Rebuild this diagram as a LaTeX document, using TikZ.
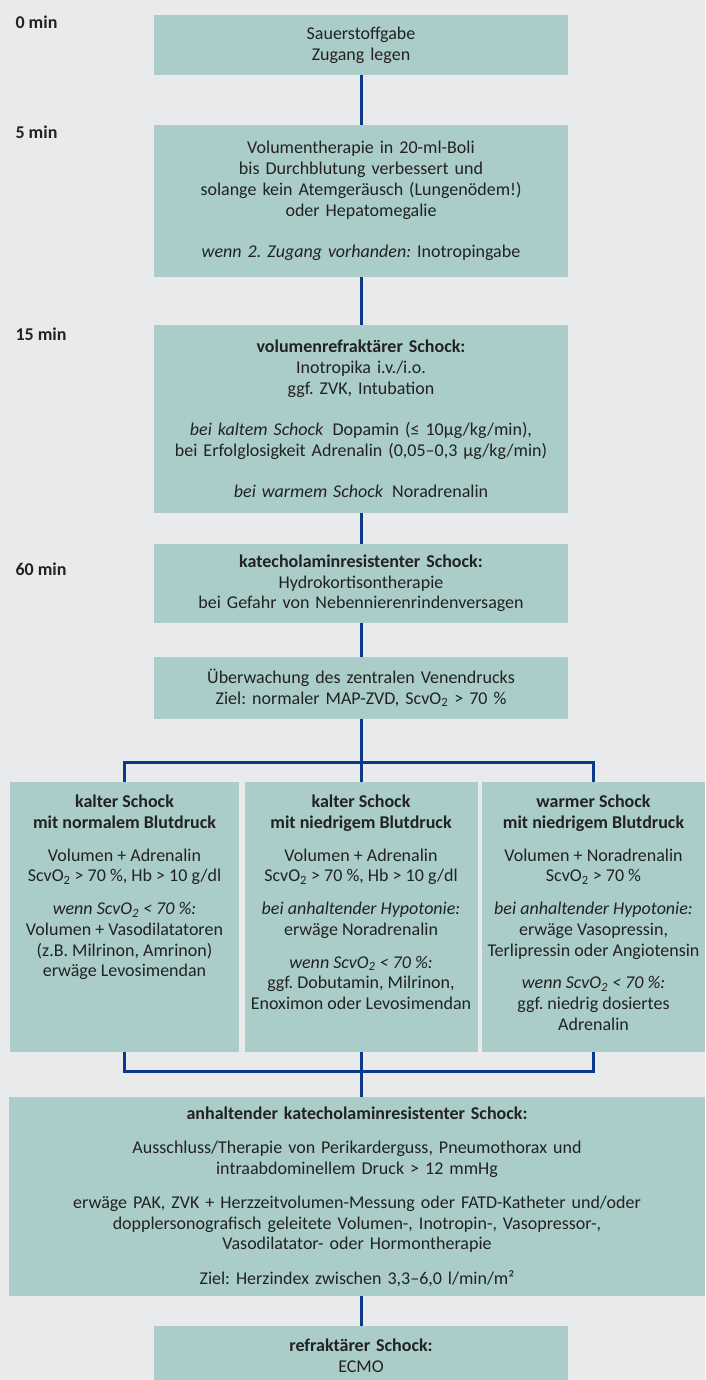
\documentclass[tikz,border=0pt]{standalone}
\usepackage{fontspec}
\setmainfont{Carlito}
\usepackage{tikz}
\usetikzlibrary{positioning}
\definecolor{pagegray}{HTML}{E8EAEB}
\definecolor{boxteal}{HTML}{AACDC9}
\definecolor{flowblue}{HTML}{0B3A8A}
\definecolor{inkgray}{HTML}{222222}
\newcommand{\svo}{ScvO\textsubscript{2}}
\newcommand{\colbox}[2]{\begin{minipage}[t][270pt][t]{#1}\centering\vspace*{13pt}#2\end{minipage}}
\frenchspacing

\begin{document}
\begin{tikzpicture}[x=1pt,y=-1pt,
    every node/.style={text=inkgray, font=\fontsize{18}{20.7}\selectfont},
    mainbox/.style={fill=boxteal, minimum width=414pt, text width=410pt, align=center, inner sep=2pt},
    colnode/.style={fill=boxteal, inner xsep=1pt, inner ysep=0pt, anchor=north},
    timelabel/.style={anchor=base west, font=\fontsize{18}{20.7}\selectfont\bfseries},
    flow/.style={draw=flowblue, line width=3pt}]
  % page
  \fill[pagegray] (0,0) rectangle (705,1380);
  \useasboundingbox (0,0) rectangle (705,1380);
  % time axis
  \node[timelabel] (t0) at (12,29) {0 min};
  \node[timelabel] (t5) at (12,139) {5 min};
  \node[timelabel] (t15) at (12,340) {15 min};
  \node[timelabel] (t60) at (12,575) {60 min};
  % main column
  \node[mainbox, minimum height=60pt] (sauer) at (361,45) {Sauerstoffgabe\\Zugang legen};
  \node[mainbox, minimum height=152pt] (volumen) at (361,201)
      {Volumentherapie in 20-ml-Boli\\bis Durchblutung verbessert und\\
       solange kein Atemgeräusch (Lungenödem!)\\oder Hepatomegalie\\[20.7pt]
       \textit{wenn 2. Zugang vorhanden:} Inotropingabe};
  \node[mainbox, minimum height=188pt] (refrakt) at (361,419)
      {\textbf{volumenrefraktärer Schock:}\\Inotropika i.v./i.o.\\ggf. ZVK, Intubation\\[20.7pt]
       \textit{bei kaltem Schock}\enspace Dopamin (≤ 10µg/kg/min),\\
       bei Erfolglosigkeit Adrenalin (0,05–0,3 µg/kg/min)\\[20.7pt]
       \textit{bei warmem Schock}\enspace Noradrenalin};
  \node[mainbox, minimum height=79pt] (katechol) at (361,583.5)
      {\textbf{katecholaminresistenter Schock:}\\Hydrokortisontherapie\\
       bei Gefahr von Nebennierenrindenversagen};
  \node[mainbox, minimum height=62pt] (zvd) at (361,688)
      {Überwachung des zentralen Venendrucks\\Ziel: normaler MAP-ZVD, \svo{} > 70 \%};
  % three shock types
  \node[colnode, minimum width=229pt] (kaltnorm) at (124.5,782) {\colbox{227pt}{%
      \textbf{kalter Schock}\\\textbf{mit normalem Blutdruck}\\[12pt]
      Volumen + Adrenalin\\\svo{} > 70 \%, Hb > 10 g/dl\\[12pt]
      \textit{wenn \svo{} < 70 \%:}\\Volumen + Vasodilatatoren\\(z.B. Milrinon, Amrinon)\\
      erwäge Levosimendan}};
  \node[colnode, minimum width=233pt] (kaltnied) at (361,782) {\colbox{231pt}{%
      \textbf{kalter Schock}\\\textbf{mit niedrigem Blutdruck}\\[12pt]
      Volumen + Adrenalin\\\svo{} > 70 \%, Hb > 10 g/dl\\[12pt]
      \textit{bei anhaltender Hypotonie:}\\erwäge Noradrenalin\\[12pt]
      \textit{wenn \svo{} < 70 \%:}\\ggf. Dobutamin, Milrinon,\\Enoximon oder Levosimendan}};
  \node[colnode, minimum width=223pt] (warmnied) at (593.5,782) {\colbox{221pt}{%
      \textbf{warmer Schock}\\\textbf{mit niedrigem Blutdruck}\\[12pt]
      Volumen + Noradrenalin\\\svo{} > 70 \%\\[12pt]
      \textit{bei anhaltender Hypotonie:}\\erwäge Vasopressin,\\Terlipressin oder Angiotensin\\[12pt]
      \textit{wenn \svo{} < 70 \%:}\\ggf. niedrig dosiertes\\Adrenalin}};
  % persistent shock
  \node[mainbox, minimum width=696pt, text width=680pt, minimum height=199pt] (anhalt) at (357,1196.5)
      {\textbf{anhaltender katecholaminresistenter Schock:}\\[13.5pt]
       Ausschluss/Therapie von Perikarderguss, Pneumothorax und\\
       intraabdominellem Druck > 12 mmHg\\[13.5pt]
       erwäge PAK, ZVK + Herzzeitvolumen-Messung oder FATD-Katheter und/oder\\
       dopplersonografisch geleitete Volumen-, Inotropin-, Vasopressor-,\\
       Vasodilatator- oder Hormontherapie\\[13.5pt]
       Ziel: Herzindex zwischen 3,3–6,0 l/min/m²};
  \node[mainbox, minimum height=60pt] (ecmo) at (361,1356) {\textbf{refraktärer Schock:}\\ECMO};
  % connectors
  \coordinate (split) at (361,762);
  \coordinate (merge) at (361,1071);
  \draw[flow] (sauer.south) -- (volumen.north);
  \draw[flow] (volumen.south) -- (refrakt.north);
  \draw[flow] (refrakt.south) -- (katechol.north);
  \draw[flow] (katechol.south) -- (zvd.north);
  \draw[flow] (zvd.south) -- (split);
  \draw[flow] (kaltnorm.north) |- (split) -| (warmnied.north);
  \draw[flow] (split) -- (kaltnied.north);
  \draw[flow] (kaltnorm.south) |- (merge) -| (warmnied.south);
  \draw[flow] (kaltnied.south) -- (merge);
  \draw[flow] (merge) -- (merge |- anhalt.north);
  \draw[flow] (anhalt.south -| ecmo.north) -- (ecmo.north);
\end{tikzpicture}
\end{document}
